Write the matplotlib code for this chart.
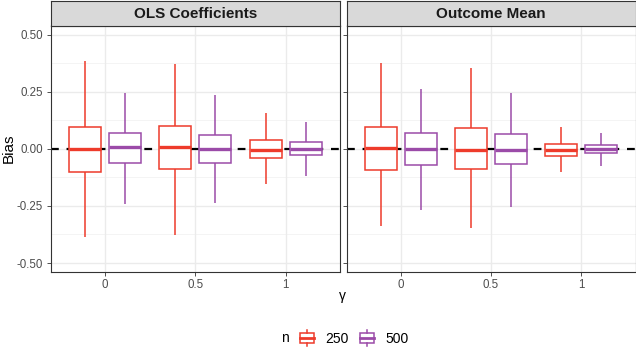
import matplotlib
matplotlib.use("Agg")
import matplotlib.pyplot as plt
from matplotlib.patches import Rectangle, Patch
from matplotlib.lines import Line2D
from matplotlib.legend_handler import HandlerBase
from matplotlib.offsetbox import HPacker
import numpy as np

plt.rcParams['font.family'] = ['Liberation Sans', 'DejaVu Sans']

facets = ["OLS Coefficients", "Outcome Mean"]
gamma_labels = ["0", "0.5", "1"]
n_labels = ["250", "500"]
colors = {"250": "#EE3B2B", "500": "#9B4BA8"}

# (low whisker, Q1, median, Q3, high whisker) per gamma
ols_250 = [(-0.388, -0.103, 0.000, 0.094, 0.383),
           (-0.376, -0.090, 0.008, 0.101, 0.370),
           (-0.155, -0.040, -0.005, 0.037, 0.155)]
ols_500 = [(-0.241, -0.063, 0.008, 0.068, 0.245),
           (-0.235, -0.063, -0.002, 0.062, 0.235),
           (-0.117, -0.027, 0.000, 0.031, 0.116)]
om_250 = [(-0.336, -0.094, 0.003, 0.095, 0.376),
          (-0.347, -0.090, -0.007, 0.091, 0.353),
          (-0.100, -0.031, -0.007, 0.021, 0.095)]
om_500 = [(-0.266, -0.069, -0.001, 0.068, 0.261),
          (-0.253, -0.065, -0.007, 0.063, 0.244),
          (-0.074, -0.020, -0.001, 0.015, 0.069)]
data = {"OLS Coefficients": {"250": ols_250, "500": ols_500},
        "Outcome Mean": {"250": om_250, "500": om_500}}

fig = plt.figure(figsize=(6.36, 3.48), dpi=100)
W, H = 636, 348
panel_px = [(50.5, 340), (346.5, 635.5)]
top_px, bot_px = 25.5, 271.5
strip_top = 1

offsets = {"250": -0.222, "500": 0.222}
bw = 0.355

axes = []
for i, f in enumerate(facets):
    l, r = panel_px[i]
    ax = fig.add_axes([l / W, 1 - bot_px / H, (r - l) / W, (bot_px - top_px) / H])
    axes.append(ax)
    ax.set_xlim(0.4, 3.6)
    ax.set_ylim(-0.537, 0.54)
    ax.set_facecolor("white")
    for y in [-0.5, -0.25, 0, 0.25, 0.5]:
        ax.axhline(y, color="#EBEBEB", lw=1.0, zorder=0)
    for y in [-0.375, -0.125, 0.125, 0.375]:
        ax.axhline(y, color="#F2F2F2", lw=0.6, zorder=0)
    for x in [1, 2, 3]:
        ax.axvline(x, color="#EBEBEB", lw=1.0, zorder=0)
    ax.axhline(0, color="black", lw=1.6, ls=(0, (3.5, 3.5)), zorder=1)
    for n in n_labels:
        c = colors[n]
        for j, st in enumerate(data[f][n]):
            lo, q1, med, q3, hi = st
            x = j + 1 + offsets[n]
            ax.plot([x, x], [q3, hi], color=c, lw=1.1, zorder=2, solid_capstyle="butt")
            ax.plot([x, x], [lo, q1], color=c, lw=1.1, zorder=2, solid_capstyle="butt")
            ax.add_patch(Rectangle((x - bw / 2, q1), bw, q3 - q1, facecolor="white",
                                   edgecolor=c, lw=1.1, zorder=3))
            ax.plot([x - bw / 2, x + bw / 2], [med, med], color=c, lw=2.4, zorder=4,
                    solid_capstyle="butt")
    ax.set_xticks([1, 2, 3])
    ax.set_xticklabels(gamma_labels)
    ax.set_yticks([-0.5, -0.25, 0, 0.25, 0.5])
    if i == 0:
        ax.set_yticklabels(["-0.50", "-0.25", "0.00", "0.25", "0.50"])
    else:
        ax.set_yticklabels([])
        ax.tick_params(axis="y", length=0)
    ax.tick_params(colors="#333333", labelcolor="#4D4D4D", labelsize=8.3, width=0.6, length=3, pad=2.5)
    for s in ax.spines.values():
        s.set_color("#333333")
        s.set_linewidth(0.8)
        s.set_zorder(6)
    sax = fig.add_axes([l / W, 1 - top_px / H, (r - l) / W, (top_px - strip_top) / H])
    sax.set_facecolor("#D9D9D9")
    sax.set_xticks([]); sax.set_yticks([])
    for s in sax.spines.values():
        s.set_color("#333333")
        s.set_linewidth(0.8)
    sax.text(0.5, 0.47, f, ha="center", va="center", fontsize=11, fontweight="bold",
             color="#1A1A1A", transform=sax.transAxes)

fig.text(9 / W, 1 - 148 / H, "Bias", ha="center", va="center", rotation=90, fontsize=11)
fig.text(342 / W, 1 - 296 / H, "γ", ha="center", va="center", fontsize=10)

class BoxHandler(HandlerBase):
    def create_artists(self, legend, orig_handle, xdescent, ydescent, width, height, fontsize, trans):
        c = orig_handle.get_edgecolor()
        x0 = -xdescent + 0.1 * width
        bwid = 0.8 * width
        y0 = -ydescent
        r = Rectangle((x0, y0 + 0.22 * height), bwid, 0.56 * height,
                      facecolor="white", edgecolor=c, lw=1.1, transform=trans)
        cx = x0 + bwid / 2
        l1 = Line2D([cx, cx], [y0, y0 + 0.22 * height], color=c, lw=1.1, transform=trans)
        l2 = Line2D([cx, cx], [y0 + 0.78 * height, y0 + height], color=c, lw=1.1, transform=trans)
        l3 = Line2D([x0, x0 + bwid], [y0 + 0.5 * height] * 2, color=c, lw=2.0, transform=trans)
        return [r, l1, l2, l3]

handles = [Patch(facecolor="white", edgecolor=colors[n]) for n in n_labels]
leg = fig.legend(handles, n_labels, loc="center", bbox_to_anchor=(345 / W, 1 - 338 / H),
                 ncol=2, frameon=False, fontsize=10, handler_map={Patch: BoxHandler()},
                 handlelength=1.25, handleheight=1.5, handletextpad=0.7, columnspacing=0.7,
                 title="n", title_fontsize=10, borderpad=0.2)
title_box = leg._legend_title_box
handle_box = leg._legend_handle_box
leg._legend_box._children = [HPacker(pad=0, sep=7, children=[title_box, handle_box], align="center")]

fig.savefig("out.png", dpi=100)
